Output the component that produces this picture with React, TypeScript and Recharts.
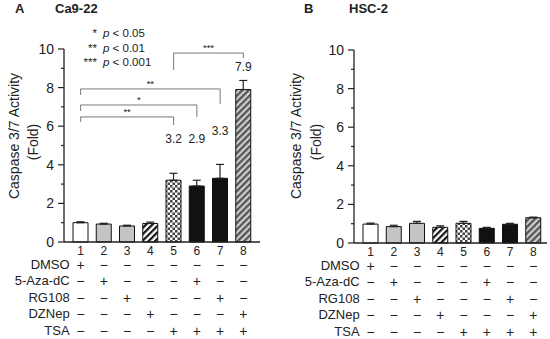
import { BarChart, Bar, XAxis, YAxis, ErrorBar, Cell, ReferenceLine, ReferenceDot } from 'recharts'

const FONT = '"Liberation Sans", Arial, sans-serif'
const INK = '#222'

// treatment groups 1..8
const groups = ['1', '2', '3', '4', '5', '6', '7', '8']
const ca922Mean = [1.0, 0.93, 0.83, 0.96, 3.2, 2.9, 3.3, 7.9]
const ca922Err = [0.05, 0.04, 0.04, 0.07, 0.36, 0.3, 0.72, 0.47]
const hsc2Mean = [0.98, 0.85, 1.02, 0.81, 1.02, 0.76, 0.97, 1.31]
const hsc2Err = [0.05, 0.07, 0.1, 0.08, 0.1, 0.05, 0.05, 0.03]
const barFills = ['#fff', '#c4c4c4', '#c4c4c4', 'url(#stripeBW)', 'url(#checker)', '#111', '#111', 'url(#stripeGray)']

const treatments = ['DMSO', '5-Aza-dC', 'RG108', 'DZNep', 'TSA']
const treatMatrix = [
  [1, 0, 0, 0, 0, 0, 0, 0],
  [0, 1, 0, 0, 0, 1, 0, 0],
  [0, 0, 1, 0, 0, 0, 1, 0],
  [0, 0, 0, 1, 0, 0, 0, 1],
  [0, 0, 0, 0, 1, 1, 1, 1],
]

// significance brackets for Ca9-22 (from, to, y, left leg end, right leg end, stars)
const brackets: [string, string, number, number, number, string][] = [
  ['1', '7', 7.93, 7.62, 7.15, '**'],
  ['1', '6', 7.1, 6.79, 6.48, '*'],
  ['1', '5', 6.48, 6.22, 6.06, '**'],
  ['5', '8', 9.79, 8.91, 9.53, '***'],
]
// fold labels above bars (group, label, y)
const foldLabels: [string, string, number][] = [
  ['5', '3.2', 5.34],
  ['6', '2.9', 5.34],
  ['7', '3.3', 5.75],
  ['8', '7.9', 9.07],
]

const yTicks = [0, 1, 2, 3, 4, 5, 6, 7, 8, 9, 10]

const YTick = (props: any) => {
  const { x, y, payload } = props
  const major = payload.value % 2 === 0
  return (
    <g>
      <line x1={x - (major ? 6 : 3)} x2={x} y1={y} y2={y} stroke={INK} strokeWidth={1.2} />
      {major && (
        <text x={x - 10} y={y + 5} textAnchor="end" fontSize={14} fontFamily={FONT} fill={INK}>
          {payload.value}
        </text>
      )}
    </g>
  )
}

const rowOffsets = [28, 44, 61, 77, 94]

const XTick = (props: any) => {
  const { x, y, payload, index } = props
  return (
    <g fontFamily={FONT} fill={INK}>
      <text x={x} y={y + 12.5} textAnchor="middle" fontSize={12}>
        {payload.value}
      </text>
      {treatMatrix.map((row, r) => (
        <text key={r} x={x} y={y + rowOffsets[r]} textAnchor="middle" fontSize={14}>
          {row[index] ? '+' : '−'}
        </text>
      ))}
      {index === 0 &&
        treatments.map((t, r) => (
          <text key={t} x={x - 11} y={y + rowOffsets[r] - 1} textAnchor="end" fontSize={13}>
            {t}
          </text>
        ))}
    </g>
  )
}

const Patterns = () => (
  <defs>
    <pattern id="stripeBW" width={4.5} height={4.5} patternUnits="userSpaceOnUse" patternTransform="rotate(45)">
      <rect width={4.5} height={4.5} fill="#fff" />
      <rect width={2.2} height={4.5} fill="#111" />
    </pattern>
    <pattern id="stripeGray" width={4.5} height={4.5} patternUnits="userSpaceOnUse" patternTransform="rotate(45)">
      <rect width={4.5} height={4.5} fill="#cfcfcf" />
      <rect width={2.3} height={4.5} fill="#555" />
    </pattern>
    <pattern id="checker" width={5} height={5} patternUnits="userSpaceOnUse">
      <rect width={5} height={5} fill="#fff" />
      <rect width={2.5} height={2.5} fill="#444" />
      <rect x={2.5} y={2.5} width={2.5} height={2.5} fill="#444" />
    </pattern>
  </defs>
)

function Panel({
  mean,
  err,
  left,
  right,
  top,
  bottom,
  padRight,
  annotate,
}: {
  mean: number[]
  err: number[]
  left: number
  right: number
  top: number
  bottom: number
  padRight: number
  annotate: boolean
}) {
  const data = groups.map((g, i) => ({ g, v: mean[i], e: [0, err[i]] }))
  return (
    <BarChart width={275} height={339} data={data} margin={{ top, right, bottom, left }} barCategoryGap={0}>
      <Patterns />
      <XAxis
        dataKey="g"
        interval={0}
        tick={<XTick />}
        tickLine={false}
        tickSize={0}
        tickMargin={0}
        height={90}
        padding={{ left: 5, right: padRight }}
        axisLine={{ stroke: INK, strokeWidth: 1.3 }}
      />
      <YAxis
        type="number"
        domain={[0, 10]}
        ticks={yTicks}
        interval={0}
        width={60}
        tick={<YTick />}
        tickLine={false}
        tickSize={0}
        tickMargin={0}
        axisLine={{ stroke: INK, strokeWidth: 1.3 }}
      />
      <Bar dataKey="v" barSize={15} stroke="#111" strokeWidth={1} isAnimationActive={false}>
        {data.map((d, i) => (
          <Cell key={d.g} fill={barFills[i]} />
        ))}
        <ErrorBar dataKey="e" width={4} stroke={INK} strokeWidth={1.2} direction="y" />
      </Bar>
      {annotate &&
        brackets.flatMap(([a, b, y, ly, ry, s], i) => [
          <ReferenceLine
            key={`h${i}`}
            segment={[
              { x: a, y },
              { x: b, y },
            ]}
            stroke="#555"
            strokeWidth={0.8}
            label={(p: any) => (
              <text
                x={p.viewBox.x + p.viewBox.width / 2}
                y={p.viewBox.y - 2}
                textAnchor="middle"
                fontSize={9.5}
                fontFamily={FONT}
                fill={INK}
              >
                {s}
              </text>
            )}
          />,
          <ReferenceLine
            key={`l${i}`}
            segment={[
              { x: a, y },
              { x: a, y: ly },
            ]}
            stroke="#555"
            strokeWidth={0.8}
          />,
          <ReferenceLine
            key={`r${i}`}
            segment={[
              { x: b, y },
              { x: b, y: ry },
            ]}
            stroke="#555"
            strokeWidth={0.8}
          />,
        ])}
      {annotate &&
        foldLabels.map(([g, t, y]) => (
          <ReferenceDot
            key={g}
            x={g}
            y={y}
            r={0}
            fill="none"
            stroke="none"
            label={{ value: t, position: 'center', fontSize: 12, fontFamily: FONT, fill: INK }}
          />
        ))}
    </BarChart>
  )
}

const YLabel = ({ x1, x2 }: { x1: number; x2: number }) => (
  <g fontFamily={FONT} fontSize={14} fill={INK} textAnchor="middle">
    <text transform={`translate(${x1},136) rotate(-90)`} dominantBaseline="central">
      Caspase 3/7 Activity
    </text>
    <text transform={`translate(${x2},142) rotate(-90)`} dominantBaseline="central">
      (Fold)
    </text>
  </g>
)

export default function App() {
  return (
    <div style={{ position: 'absolute', left: 0, top: 0, width: 550, height: 339, background: '#fff' }}>
      <div style={{ position: 'absolute', left: 0, top: 0 }}>
        <Panel mean={ca922Mean} err={ca922Err} left={4} right={15} top={49} bottom={7} padRight={5} annotate />
      </div>
      <div style={{ position: 'absolute', left: 275, top: 0 }}>
        <Panel mean={hsc2Mean} err={hsc2Err} left={19} right={3} top={50} bottom={6} padRight={2} annotate={false} />
      </div>
      <svg width={550} height={339} style={{ position: 'absolute', left: 0, top: 0, pointerEvents: 'none' }}>
        <g fontFamily={FONT} fontWeight="bold" fontSize={13} fill={INK}>
          <text x={15} y={13}>A</text>
          <text x={55} y={13}>Ca9-22</text>
          <text x={304} y={13}>B</text>
          <text x={349} y={13}>HSC-2</text>
        </g>
        <YLabel x1={14} x2={33} />
        <YLabel x1={296} x2={316} />
        <g fontFamily={FONT} fontSize={11.5} fill={INK}>
          {['*', '**', '***'].map((s, i) => (
            <text key={s} x={97} y={37 + i * 14.5} textAnchor="end">
              {s}
            </text>
          ))}
          {['< 0.05', '< 0.01', '< 0.001'].map((s, i) => (
            <text key={s} x={103} y={37 + i * 14.5}>
              <tspan fontStyle="italic">p</tspan> {s}
            </text>
          ))}
        </g>
      </svg>
    </div>
  )
}
